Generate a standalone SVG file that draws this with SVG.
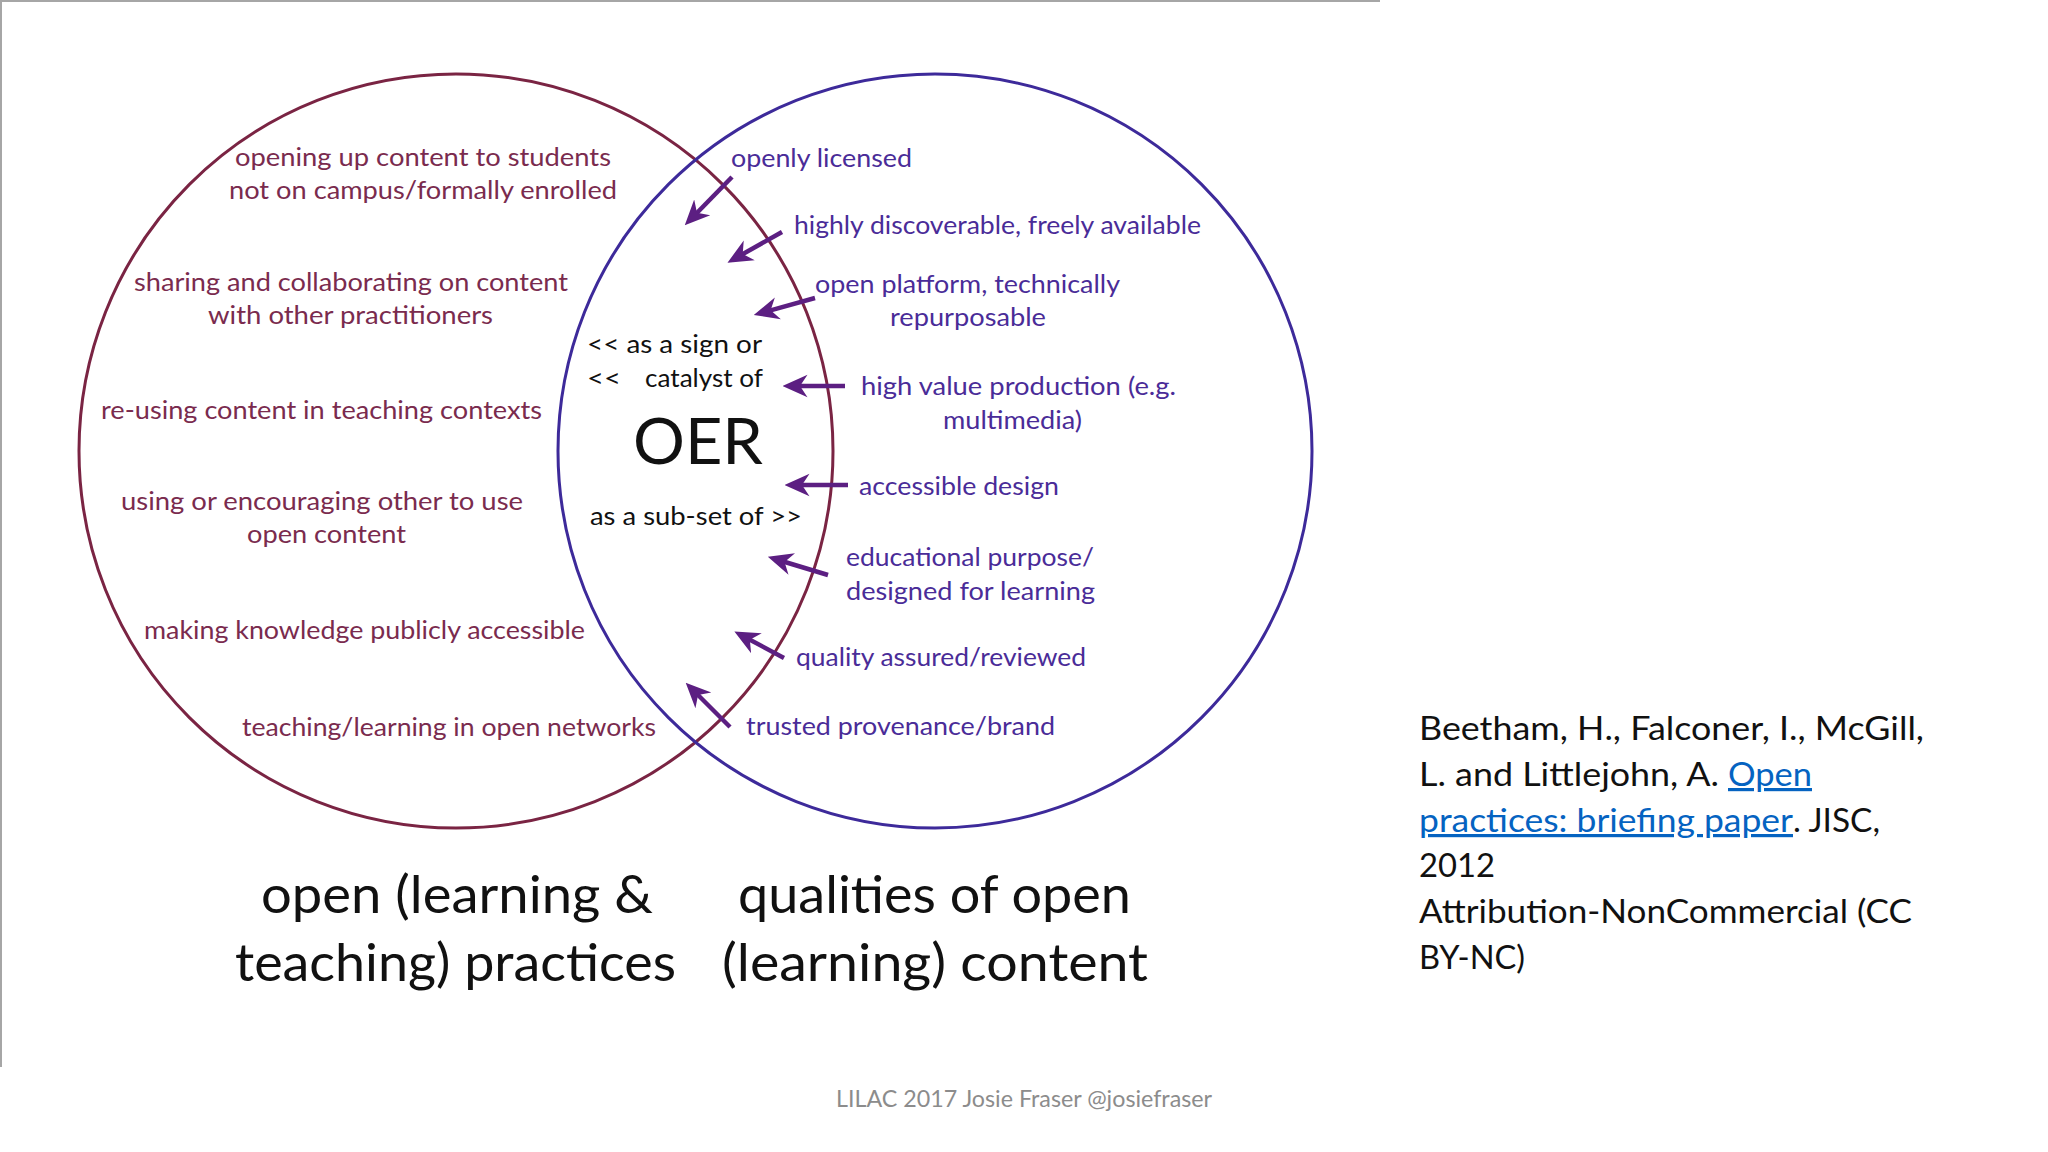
<svg xmlns="http://www.w3.org/2000/svg" width="2048" height="1152" viewBox="0 0 2048 1152">
<style>
text{font-family:Lato,"Open Sans","Liberation Sans",sans-serif}
.l{font-size:25px;fill:#7a2b4e}
.r{font-size:25px;fill:#4a2c98}
.c{font-size:25px;fill:#111}
.big{font-size:52px;fill:#111}
.cite{font-size:32px;fill:#111}
.link{font-size:32px;fill:#0563c1;text-decoration:underline}
.foot{font-size:24px;fill:#8c8c8c}
.arr{stroke:#5c1f82;stroke-width:4.5;fill:none;marker-end:url(#ah)}
</style>
<defs>
<marker id="ah" viewBox="0 0 10 10" refX="7" refY="5" markerWidth="25" markerHeight="25" markerUnits="userSpaceOnUse" orient="auto">
<path d="M0,0.5 L10,5 L0,9.5 L3,5 z" fill="#5c1f82"/>
</marker>
</defs>
<rect width="2048" height="1152" fill="#ffffff"/>
<line x1="0" y1="1" x2="1380" y2="1" stroke="#a6a6a6" stroke-width="2"/>
<line x1="1" y1="0" x2="1" y2="1067" stroke="#a6a6a6" stroke-width="2"/>

<g id="circle-practices">
<circle cx="456" cy="451" r="377" fill="none" stroke="#7a2443" stroke-width="3"/>
<text class="l" x="235" y="166" textLength="376" lengthAdjust="spacingAndGlyphs">opening up content to students</text>
<text class="l" x="229" y="199" textLength="388" lengthAdjust="spacingAndGlyphs">not on campus/formally enrolled</text>
<text class="l" x="134" y="291" textLength="434" lengthAdjust="spacingAndGlyphs">sharing and collaborating on content</text>
<text class="l" x="208" y="324" textLength="285" lengthAdjust="spacingAndGlyphs">with other practitioners</text>
<text class="l" x="101" y="419" textLength="441" lengthAdjust="spacingAndGlyphs">re-using content in teaching contexts</text>
<text class="l" x="121" y="510" textLength="402" lengthAdjust="spacingAndGlyphs">using or encouraging other to use</text>
<text class="l" x="247" y="543" textLength="159" lengthAdjust="spacingAndGlyphs">open content</text>
<text class="l" x="144" y="639" textLength="441" lengthAdjust="spacingAndGlyphs">making knowledge publicly accessible</text>
<text class="l" x="242" y="736" textLength="414" lengthAdjust="spacingAndGlyphs">teaching/learning in open networks</text>
</g>

<g id="circle-content">
<circle cx="935" cy="451" r="377" fill="none" stroke="#3d2a9a" stroke-width="3"/>
<text class="r" x="731" y="167" textLength="181" lengthAdjust="spacingAndGlyphs">openly licensed</text>
<text class="r" x="794" y="234" textLength="407" lengthAdjust="spacingAndGlyphs">highly discoverable, freely available</text>
<text class="r" x="815" y="293" textLength="305" lengthAdjust="spacingAndGlyphs">open platform, technically</text>
<text class="r" x="890" y="326" textLength="156" lengthAdjust="spacingAndGlyphs">repurposable</text>
<text class="r" x="861" y="395" textLength="315" lengthAdjust="spacingAndGlyphs">high value production (e.g.</text>
<text class="r" x="943" y="429" textLength="139" lengthAdjust="spacingAndGlyphs">multimedia)</text>
<text class="r" x="859" y="495" textLength="200" lengthAdjust="spacingAndGlyphs">accessible design</text>
<text class="r" x="846" y="566" textLength="248" lengthAdjust="spacingAndGlyphs">educational purpose/</text>
<text class="r" x="846" y="600" textLength="249" lengthAdjust="spacingAndGlyphs">designed for learning</text>
<text class="r" x="796" y="666" textLength="290" lengthAdjust="spacingAndGlyphs">quality assured/reviewed</text>
<text class="r" x="746" y="735" textLength="309" lengthAdjust="spacingAndGlyphs">trusted provenance/brand</text>
</g>

<g id="oer-center">
<text class="c" x="587" y="353" textLength="175" lengthAdjust="spacingAndGlyphs">&lt;&lt; as a sign or</text>
<text class="c" x="587" y="387" textLength="34" lengthAdjust="spacingAndGlyphs">&lt;&lt;</text>
<text class="c" x="645" y="387" textLength="118" lengthAdjust="spacingAndGlyphs">catalyst of</text>
<text x="633" y="464" style="font-size:64px;fill:#111" textLength="130" lengthAdjust="spacingAndGlyphs">OER</text>
<text class="c" x="590" y="525" textLength="212" lengthAdjust="spacingAndGlyphs">as a sub-set of &gt;&gt;</text>
</g>

<g id="connectors">
<line class="arr" x1="732" y1="177" x2="690" y2="220"/>
<line class="arr" x1="782" y1="232" x2="734" y2="259"/>
<line class="arr" x1="815" y1="298" x2="761" y2="313"/>
<line class="arr" x1="845" y1="386" x2="790" y2="386"/>
<line class="arr" x1="848" y1="485" x2="792" y2="485"/>
<line class="arr" x1="828" y1="575" x2="775" y2="559"/>
<line class="arr" x1="784" y1="658" x2="741" y2="635"/>
<line class="arr" x1="730" y1="727" x2="691" y2="688"/>
</g>

<g id="titles">
<text class="big" x="261" y="913" textLength="392" lengthAdjust="spacingAndGlyphs">open (learning &amp;</text>
<text class="big" x="235" y="981" textLength="441" lengthAdjust="spacingAndGlyphs">teaching) practices</text>
<text class="big" x="738" y="913" textLength="393" lengthAdjust="spacingAndGlyphs">qualities of open</text>
<text class="big" x="722" y="981" textLength="426" lengthAdjust="spacingAndGlyphs">(learning) content</text>
</g>

<g id="citation">
<text class="cite" x="1419" y="740" textLength="505" lengthAdjust="spacingAndGlyphs">Beetham, H., Falconer, I., McGill,</text>
<text class="cite" x="1419" y="786" textLength="300" lengthAdjust="spacingAndGlyphs">L. and Littlejohn, A.</text>
<text class="link" x="1728" y="786" textLength="84" lengthAdjust="spacingAndGlyphs">Open</text>
<text class="link" x="1419" y="832" textLength="374" lengthAdjust="spacingAndGlyphs">practices: briefing paper</text>
<text class="cite" x="1793" y="832" textLength="87" lengthAdjust="spacingAndGlyphs">. JISC,</text>
<text class="cite" x="1419" y="877" textLength="76" lengthAdjust="spacingAndGlyphs">2012</text>
<text class="cite" x="1419" y="923" textLength="493" lengthAdjust="spacingAndGlyphs">Attribution-NonCommercial (CC</text>
<text class="cite" x="1419" y="969" textLength="106" lengthAdjust="spacingAndGlyphs">BY-NC)</text>
</g>

<text class="foot" x="836" y="1107" textLength="376" lengthAdjust="spacingAndGlyphs">LILAC 2017 Josie Fraser @josiefraser</text>
</svg>
